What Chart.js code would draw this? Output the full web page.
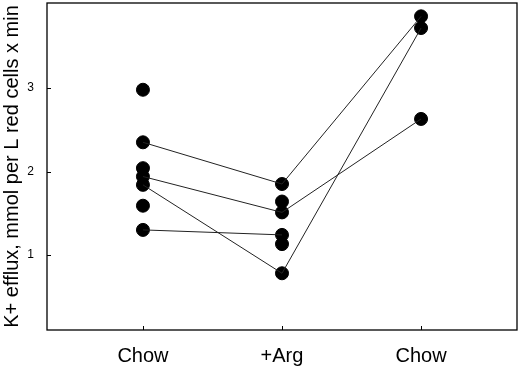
<!DOCTYPE html>
<html>
<head>
<meta charset="utf-8">
<script src="https://cdn.jsdelivr.net/npm/chart.js@4"></script>
<style>
  html, body { margin: 0; padding: 0; background: #fff; }
  #wrap { width: 520px; height: 366px; }
</style>
</head>
<body>
<div id="wrap"><canvas id="chart" width="520" height="366"></canvas></div>
<script>
// categories on the x axis (positions 0, 1, 2)
const categories = ['Chow', '+Arg', 'Chow'];
const yTicks = [1, 2, 3];

// every measured value per group
const chowBefore = [2.98, 2.35, 2.04, 1.94, 1.84, 1.59, 1.30];
const argValues = [1.85, 1.64, 1.51, 1.24, 1.13, 0.78];
const chowAfter = [3.86, 3.72, 2.63];

// paired subjects joined by lines
const subjectA = [2.35, 1.85, 3.86];
const subjectB = [1.94, 1.51, 2.63];
const subjectC = [1.84, 0.78, 3.72];
const subjectD = [1.30, 1.24];

const toXY = (vals, x) => vals.map(v => ({ x: x, y: v }));
const pathXY = vals => vals.map((v, i) => ({ x: i, y: v }));

const lineStyle = {
  showLine: true,
  borderColor: '#222',
  borderWidth: 1,
  pointRadius: 0,
  pointHoverRadius: 0
};

const pointStyle = {
  backgroundColor: '#000',
  borderColor: '#000',
  pointRadius: 6.5,
  pointHoverRadius: 6.5,
  showLine: false
};

// frame + inward ticks
const framePlugin = {
  id: 'frame',
  afterDraw(chart) {
    const { ctx, chartArea: a, scales } = chart;
    ctx.save();
    ctx.strokeStyle = '#000';
    ctx.lineWidth = 1.3;
    ctx.strokeRect(a.left, a.top, a.right - a.left, a.bottom - a.top);
    ctx.lineWidth = 1;
    ctx.beginPath();
    yTicks.forEach(t => {
      const y = Math.round(scales.y.getPixelForValue(t)) + 0.5;
      ctx.moveTo(a.left, y);
      ctx.lineTo(a.left + 4, y);
    });
    categories.forEach((c, i) => {
      const x = Math.round(scales.x.getPixelForValue(i)) + 0.5;
      ctx.moveTo(x, a.bottom);
      ctx.lineTo(x, a.bottom - 4);
    });
    ctx.stroke();
    ctx.restore();
  }
};

const noPad = s => {
  s.paddingTop = 0; s.paddingBottom = 0;
  s.paddingLeft = 0; s.paddingRight = 0;
};

new Chart(document.getElementById('chart'), {
  type: 'scatter',
  data: {
    datasets: [
      Object.assign({ data: pathXY(subjectA) }, lineStyle),
      Object.assign({ data: pathXY(subjectB) }, lineStyle),
      Object.assign({ data: pathXY(subjectC) }, lineStyle),
      Object.assign({ data: pathXY(subjectD) }, lineStyle),
      Object.assign({ data: toXY(chowBefore, 0) }, pointStyle),
      Object.assign({ data: toXY(argValues, 1) }, pointStyle),
      Object.assign({ data: toXY(chowAfter, 2) }, pointStyle)
    ]
  },
  options: {
    responsive: false,
    animation: false,
    layout: { autoPadding: false, padding: { top: 3, right: 3, left: 0, bottom: 0 } },
    plugins: { legend: { display: false }, tooltip: { enabled: false } },
    scales: {
      x: {
        type: 'linear',
        min: -0.69,
        max: 2.69,
        grid: { display: false },
        border: { display: false },
        afterBuildTicks: s => { s.ticks = categories.map((c, i) => ({ value: i })); },
        afterFit: s => { s.height = 36; noPad(s); },
        ticks: {
          color: '#000',
          padding: 6,
          font: { family: 'Liberation Sans, Arial', size: 20 },
          callback: v => categories[v]
        }
      },
      y: {
        min: 0.1,
        max: 4.02,
        grid: { display: false },
        border: { display: false },
        afterBuildTicks: s => { s.ticks = yTicks.map(v => ({ value: v })); },
        afterFit: s => { s.width = 47; noPad(s); },
        ticks: {
          color: '#000',
          padding: 5,
          font: { family: 'Liberation Sans, Arial', size: 12 }
        },
        title: {
          display: true,
          text: 'K+ efflux, mmol per L red cells x min',
          color: '#000',
          padding: { top: 0, bottom: 0 },
          font: { family: 'Liberation Sans, Arial', size: 20 }
        }
      }
    }
  },
  plugins: [framePlugin]
});
</script>
</body>
</html>
